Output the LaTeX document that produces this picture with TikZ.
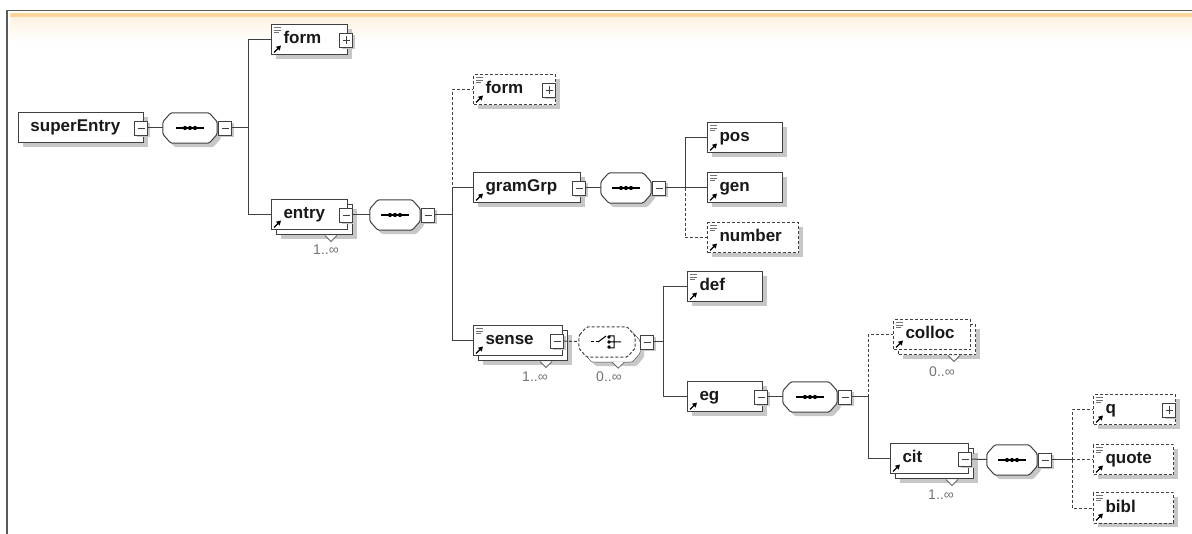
\documentclass[tikz,border=0pt]{standalone}
\usepackage{fontspec}
\setmainfont{Liberation Sans}
\usetikzlibrary{arrows.meta}
\definecolor{band}{RGB}{253,214,158}

\newcommand{\docicon}[1]{%
  \draw[black!55,line width=0.8pt] ([shift={(3,3)}]#1.north west) -- ++(7,0)
    ([shift={(3,5.5)}]#1.north west) -- ++(7,0)
    ([shift={(3,8)}]#1.north west) -- ++(5,0);}
\newcommand{\refarrow}[1]{%
  \draw[black,line width=1.3pt,-{Triangle[length=4.5pt,width=5pt]}]
    ([shift={(3,-3)}]#1.south west) -- ++(7,-7);}
\newcommand{\octa}[2][]{%
  \draw[octo,#1] ([shift={(0,9)}]#2.north west) -- ([shift={(8,0)}]#2.north west)
    -- ([shift={(-8,0)}]#2.north east) -- ([shift={(0,9)}]#2.north east)
    -- ([shift={(0,-9)}]#2.south east) -- ([shift={(-8,0)}]#2.south east)
    -- ([shift={(8,0)}]#2.south west) -- ([shift={(0,-9)}]#2.south west) -- cycle;}
\newcommand{\seqicon}[1]{%
  \draw[line width=1.1pt] ([shift={(-14,0)}]#1.center) -- ([shift={(14,0)}]#1.center);
  \foreach \d in {-5,0,5} \fill ([shift={(\d,0)}]#1.center) circle (2.1);}
\newcommand{\notch}[1]{%
  \draw[black!60,line width=0.8pt,fill=white] ([shift={(-23,5)}]#1.south east) -- ++(6,6) -- ++(6,-6);}

\begin{document}
\begin{tikzpicture}[x=1pt,y=-1pt,
    shd/.style={preaction={draw=none,fill=black!22,transform canvas={shift={(#1,-#1)}}}},
    one/.style={shd=4pt},
    many/.style={shd=9pt,preaction={draw=black!75,fill=white,transform canvas={shift={(5pt,-5pt)}}}},
    elem/.style={draw=black!75,line width=1pt,fill=white,anchor=west,align=left,
      minimum height=30pt,inner xsep=12pt,inner ysep=0pt,text height=12pt,text depth=4pt,
      font=\bfseries\fontsize{17}{19}\selectfont,text=black!90},
    opt/.style={dash pattern=on 3pt off 2pt},
    comp/.style={minimum width=54pt,minimum height=30pt,inner sep=0pt},
    octo/.style={draw=black!75,line width=1pt,fill=white,rounded corners=1.5pt},
    tog/.style={draw=black!75,line width=0.9pt,fill=white,minimum width=13pt,minimum height=14pt,
      inner sep=0pt,shd=2pt},
    minus/.style={tog,path picture={\draw[line width=0.9pt]
      ([shift={(3,0)}]path picture bounding box.west) -- ([shift={(-3,0)}]path picture bounding box.east);}},
    plus/.style={tog,path picture={\draw[line width=0.9pt]
      ([shift={(3,0)}]path picture bounding box.west) -- ([shift={(-3,0)}]path picture bounding box.east)
      ([shift={(0,3)}]path picture bounding box.north) -- ([shift={(0,-3)}]path picture bounding box.south);}},
    conn/.style={draw=black!75,line width=1pt},
    mult/.style={font=\fontsize{14}{16}\selectfont,text=black!55}]
  \useasboundingbox (0,0) rectangle (1192,534);
  \fill[band] (10,13) rectangle (1192,17.5);
  \shade[top color=band!30,bottom color=white] (10,17.5) rectangle (1192,42);
  \draw[black!65,line width=1.5pt] (7,534) -- (7,10.5) -- (1192,10.5);

  \node[elem,one,text width=101pt] (sup) at (18,128) {superEntry};
  \node[elem,one,text width=52pt] (form1) at (271,40) {form};
  \node[elem,many,text width=52pt] (entry) at (271,215) {entry};
  \node[elem,one,opt,text width=58pt] (form2) at (473,90) {form};
  \node[elem,one,text width=83pt] (gramGrp) at (473,188) {gramGrp};
  \node[elem,one,text width=51pt] (pos) at (707,138) {pos};
  \node[elem,one,text width=51pt] (gen) at (707,188) {gen};
  \node[elem,one,opt,text width=67pt] (number) at (707,238) {number};
  \node[elem,many,text width=65pt] (sense) at (473,341) {sense};
  \node[elem,one,text width=51pt] (def) at (687,287) {def};
  \node[elem,one,text width=51pt] (eg) at (687,397) {eg};
  \node[elem,many,opt,text width=53pt] (colloc) at (893,335) {colloc};
  \node[elem,many,text width=54pt] (cit) at (890,459) {cit};
  \node[elem,one,opt,text width=58pt] (q) at (1093,410) {q};
  \node[elem,one,opt,text width=56pt] (quote) at (1093,460) {quote};
  \node[elem,one,opt,text width=56pt] (bibl) at (1093,508) {bibl};

  \foreach \n in {form1,form2,pos,gen,number,sense,def,colloc,q,quote,bibl} \docicon{\n};
  \foreach \n in {form1,entry,form2,gramGrp,pos,gen,number,sense,def,eg,colloc,cit,q,quote,bibl} \refarrow{\n};

  \node[minus] (sup-m) at ([shift={(-3,0)}]sup.east) {};
  \node[plus] (form1-m) at ([shift={(-2,0)}]form1.east) {};
  \node[minus] (entry-m) at ([shift={(-2,0)}]entry.east) {};
  \node[plus] (form2-m) at ([shift={(-7,0)}]form2.east) {};
  \node[minus] (gramGrp-m) at ([shift={(-2,0)}]gramGrp.east) {};
  \node[minus] (sense-m) at ([shift={(-6,0)}]sense.east) {};
  \node[minus] (eg-m) at ([shift={(-2,0)}]eg.east) {};
  \node[minus] (cit-m) at ([shift={(-4,0)}]cit.east) {};
  \node[plus] (q-m) at ([shift={(-7,0)}]q.east) {};

  \node[comp] (seq1) at (190,128) {};
  \node[comp,minimum width=50pt] (seq2) at (395,215) {};
  \node[comp,minimum width=50pt] (seq3) at (626,188) {};
  \node[comp,minimum width=56pt] (ch) at (607,342) {};
  \node[comp] (seq4) at (810,397) {};
  \node[comp,minimum width=50pt] (seq5) at (1012,460) {};
  \foreach \n in {seq1,seq2,seq3,seq4,seq5} {\octa[one]{\n} \seqicon{\n}}
  \octa[many,opt]{ch}
  \draw[line width=1pt,opt] ([shift={(-16,0)}]ch.center) -- ++(7,0);
  \draw[line width=1pt] ([shift={(-9,0)}]ch.center) -- ++(8,-6)
    ([shift={(2,-6)}]ch.center) -- ++(5,0) -- ++(0,12) -- ++(-5,0)
    ([shift={(2,0)}]ch.center) -- ++(12,0);
  \foreach \d in {-5,0,5} \fill ([shift={(2,\d)}]ch.center) circle (1.8);

  \node[minus] (seq1-m) at ([shift={(8,0)}]seq1.east) {};
  \node[minus] (seq2-m) at ([shift={(8,0)}]seq2.east) {};
  \node[minus] (seq3-m) at ([shift={(8,0)}]seq3.east) {};
  \node[minus] (ch-m) at ([shift={(12,0)}]ch.east) {};
  \node[minus] (seq4-m) at ([shift={(8,0)}]seq4.east) {};
  \node[minus] (seq5-m) at ([shift={(8,0)}]seq5.east) {};

  \foreach \n in {entry,sense,ch,colloc,cit} \notch{\n};
  \node[mult] (entry-n) at (326,250) {1..∞};
  \node[mult] (sense-n) at (535,377) {1..∞};
  \node[mult] (ch-n) at (609,377) {0..∞};
  \node[mult] (colloc-n) at (942,372) {0..∞};
  \node[mult] (cit-n) at (941,495) {1..∞};

  \coordinate (t1) at (248,128);
  \coordinate (t2) at (452,215);
  \coordinate (t3) at (685,188);
  \coordinate (t4) at (663,342);
  \coordinate (t5) at (868,397);
  \coordinate (t6) at (1072,460);

  \draw[conn] (sup-m) to (seq1);
  \draw[conn] (seq1-m) to (t1);
  \draw[conn] (t1) |- (form1);
  \draw[conn] (t1) |- (entry);
  \draw[conn] (entry-m) to (seq2);
  \draw[conn] (seq2-m) to (t2);
  \draw[conn,opt] (t2) |- (form2);
  \draw[conn] (t2) |- (gramGrp);
  \draw[conn] (t2) |- (sense);
  \draw[conn] (gramGrp-m) to (seq3);
  \draw[conn] (seq3-m) to (t3);
  \draw[conn] (t3) |- (pos);
  \draw[conn] (t3) to (gen);
  \draw[conn,opt] (t3) |- (number);
  \draw[conn,opt] (sense-m) to (ch);
  \draw[conn] (ch-m) to (t4);
  \draw[conn] (t4) |- (def);
  \draw[conn] (t4) |- (eg);
  \draw[conn] (eg-m) to (seq4);
  \draw[conn] (seq4-m) to (t5);
  \draw[conn,opt] (t5) |- (colloc);
  \draw[conn] (t5) |- (cit);
  \draw[conn] (cit-m) to (seq5);
  \draw[conn] (seq5-m) to (t6);
  \draw[conn,opt] (t6) |- (q);
  \draw[conn,opt] (t6) to (quote);
  \draw[conn,opt] (t6) |- (bibl);
\end{tikzpicture}
\end{document}
